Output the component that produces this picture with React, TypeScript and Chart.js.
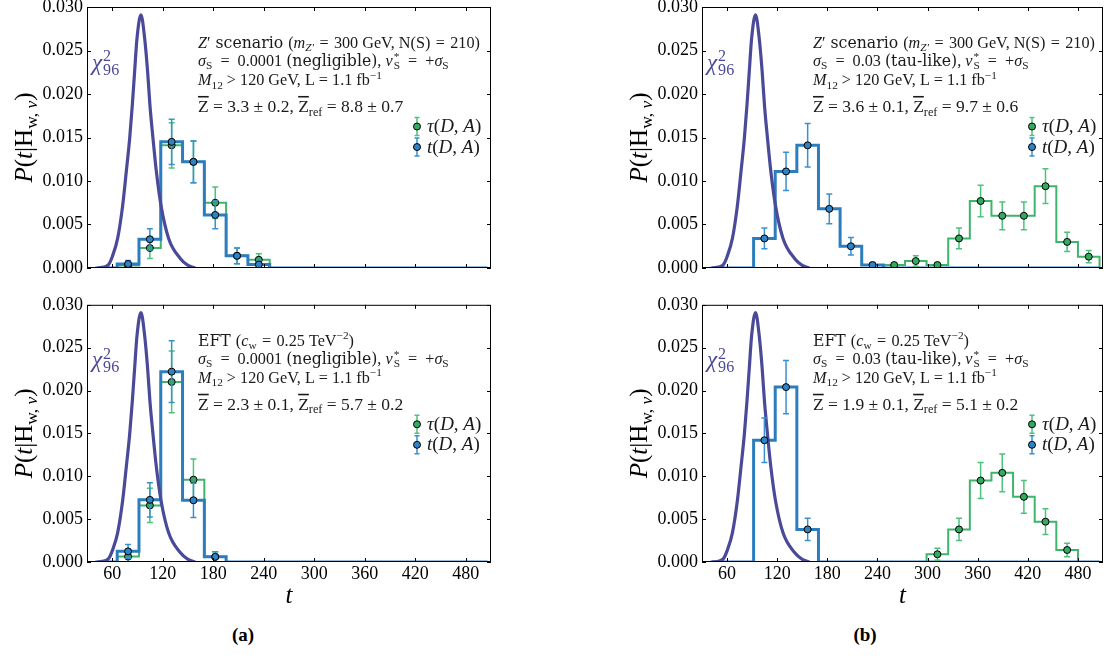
import React, { useEffect, useRef } from "react";
import { Chart, registerables } from "chart.js";
Chart.register(...registerables);

// ---------- data ----------
const N_BINS = 18;
const T_LO = 40;
const BIN_W = 440 / 17;
const X_MIN = 30;
const X_MAX = 510;
const X_TICKS = [60, 120, 180, 240, 300, 360, 420, 480];
const Y_TICKS = [0, 0.005, 0.01, 0.015, 0.02, 0.025, 0.03];

// chi^2_96 reference curve
const CHI_T = [42, 50, 55.7, 60, 66.4, 72.4, 76.7, 80.7, 83.8, 86.6, 89.4, 94.1, 98.5, 102, 104.8, 108.4, 112.4, 117.9, 127, 140.8, 150, 158.6];
const CHI_P = [0, 0.0001, 0.0004, 0.0013, 0.0034, 0.0072, 0.0111, 0.0149, 0.0187, 0.0226, 0.0264, 0.0291, 0.0264, 0.0226, 0.0187, 0.0149, 0.0111, 0.0072, 0.0034, 0.0011, 0.0003, 0];

// (a) top: Z' scenario, negligible smearing
const A1_GREEN = [0, 0.0003, 0.0023, 0.0141, 0.0122, 0.0075, 0.0014, 0.00095, 0, 0, 0, 0, 0, 0, 0, 0, 0, 0];
const A1_GREEN_ERR = [0, 0.0003, 0.0012, 0.0026, 0.0024, 0.0018, 0.0009, 0.0007, 0, 0, 0, 0, 0, 0, 0, 0, 0, 0];
const A1_BLUE = [0, 0.00046, 0.0033, 0.0145, 0.0122, 0.0061, 0.0014, 0.0004, 0, 0, 0, 0, 0, 0, 0, 0, 0, 0];
const A1_BLUE_ERR = [0, 0.0004, 0.0012, 0.0026, 0.0024, 0.0016, 0.0009, 0.0004, 0, 0, 0, 0, 0, 0, 0, 0, 0, 0];
// (a) bottom: EFT, negligible smearing
const A2_GREEN = [0, 0.00063, 0.0066, 0.021, 0.0096, 0.0006, 0, 0, 0, 0, 0, 0, 0, 0, 0, 0, 0, 0];
const A2_GREEN_ERR = [0, 0.0006, 0.002, 0.0036, 0.0024, 0.0006, 0, 0, 0, 0, 0, 0, 0, 0, 0, 0, 0, 0];
const A2_BLUE = [0, 0.00124, 0.00725, 0.0222, 0.0072, 0.0006, 0, 0, 0, 0, 0, 0, 0, 0, 0, 0, 0, 0];
const A2_BLUE_ERR = [0, 0.0008, 0.002, 0.0036, 0.002, 0.0006, 0, 0, 0, 0, 0, 0, 0, 0, 0, 0, 0, 0];
// (b) top: Z' scenario, tau-like smearing
const B1_GREEN = [0, 0, 0, 0, 0, 0, 0, 0, 0.00034, 0.0008, 0.00034, 0.0034, 0.0077, 0.006, 0.006, 0.0094, 0.003, 0.0013];
const B1_GREEN_ERR = [0, 0, 0, 0, 0, 0, 0, 0, 0.0002, 0.0006, 0.0002, 0.0012, 0.0018, 0.0016, 0.0016, 0.002, 0.0011, 0.0007];
const B1_BLUE = [0, 0, 0.0034, 0.0111, 0.0141, 0.0068, 0.0025, 0.00034, 0, 0, 0, 0, 0, 0, 0, 0, 0, 0];
const B1_BLUE_ERR = [0, 0, 0.0012, 0.0022, 0.0025, 0.0017, 0.001, 0.0003, 0, 0, 0, 0, 0, 0, 0, 0, 0, 0];
// (b) bottom: EFT, tau-like smearing
const B2_GREEN = [0, 0, 0, 0, 0, 0, 0, 0, 0, 0, 0.0009, 0.0038, 0.0095, 0.0104, 0.0076, 0.0047, 0.0014, 0];
const B2_GREEN_ERR = [0, 0, 0, 0, 0, 0, 0, 0, 0, 0, 0.0007, 0.0013, 0.0021, 0.0022, 0.0019, 0.0015, 0.0008, 0];
const B2_BLUE = [0, 0, 0.0142, 0.0204, 0.0038, 0, 0, 0, 0, 0, 0, 0, 0, 0, 0, 0, 0, 0];
const B2_BLUE_ERR = [0, 0, 0.0026, 0.0031, 0.0013, 0, 0, 0, 0, 0, 0, 0, 0, 0, 0, 0, 0, 0];

// ---------- styles ----------
const C_GREEN = "#3fb46b";
const C_GREEN_ERR = "#4cc27c";
const C_GREEN_MK = "#35a862";
const C_BLUE = "#2c7dbd";
const C_BLUE_ERR = "#3a90d0";
const C_BLUE_MK = "#2f83c4";
const C_CHI = "#4a4a98";
const MATH_FONT = '"Liberation Serif", serif';
const TEXT_FONT = '"DejaVu Serif", serif';

const EDGES = Array.from({ length: N_BINS + 1 }, (_, k) => T_LO + k * BIN_W);
const CENTERS = Array.from({ length: N_BINS }, (_, k) => T_LO + (k + 0.5) * BIN_W);

type Seg = [string, string];
const EQ_W = "\u2002=\u2002";
const EQ_N = "\u2004=\u2004";

function drawRich(ctx: CanvasRenderingContext2D, segs: Seg[], x: number, y: number, size: number, color: string, draw = true): number {
  let cx = x;
  ctx.fillStyle = color;
  ctx.textBaseline = "alphabetic";
  ctx.textAlign = "left";
  for (const [txt, st] of segs) {
    const f = st.split(" ");
    const it = f.includes("i") ? "italic " : "";
    const isText = f.includes("t");
    const fam = isText ? TEXT_FONT : MATH_FONT;
    if (f.includes("ss")) {
      const [a, b] = txt.split("|");
      const s2 = size * 0.7;
      ctx.font = `${s2}px ${fam}`;
      const wa = ctx.measureText(a).width;
      const wb = ctx.measureText(b).width;
      if (draw) {
        ctx.fillText(a, cx + 1, y - size * 0.36);
        ctx.fillText(b, cx + 1, y + size * 0.22);
      }
      cx += Math.max(wa, wb) + 1;
      continue;
    }
    let sz = isText ? size * 0.97 : size;
    let dy = 0;
    if (f.includes("sub")) { sz = size * 0.7; dy = size * 0.22; }
    if (f.includes("sup")) { sz = size * 0.7; dy = -size * 0.4; }
    ctx.font = `${it}${sz}px ${fam}`;
    const w = ctx.measureText(txt).width;
    if (draw) {
      ctx.fillText(txt, cx, y + dy);
      if (f.includes("ov")) ctx.fillRect(cx, y + dy - sz * 0.9, w, Math.max(1.5, sz * 0.09));
    }
    cx += w;
  }
  return cx - x;
}

const LINE_Z1: Seg[] = [["Z", "i"], ["′", "r"], [" scenario ", "t"], ["(", "r"], ["m", "i"], ["Z′", "sub i"], [`${EQ_N}300 GeV, N(S)${EQ_N}210)`, "r"]];
const LINE_EFT1: Seg[] = [["EFT ", "t"], ["(", "r"], ["c", "i"], ["w", "sub"], [`${EQ_N}0.25 TeV`, "r"], ["−2", "sup"], [")", "r"]];
const lineSigma = (val: string, word: string): Seg[] => [["σ", "i"], ["S", "sub"], [`${EQ_W}${val} `, "r"], [word, "t"], [", ", "r"], ["ν", "i"], ["*|S", "ss"], [`${EQ_W}+`, "r"], ["σ", "i"], ["S", "sub"]];
const LINE_3: Seg[] = [["M", "i"], ["12", "sub"], [" > 120 GeV, L = 1.1 fb", "r"], ["−1", "sup"]];
const lineZ = (z: string, zr: string): Seg[] => [["Z", "ov"], [` = ${z}, `, "r"], ["Z", "ov"], ["ref", "sub"], [` = ${zr}`, "r"]];
const Y_TITLE: Seg[] = [["P", "i"], ["(", "r"], ["t", "i"], ["|", "r"], ["H", "r"], ["w, ", "sub"], ["ν", "sub i"], [")", "r"]];
const LEG_TAU: Seg[] = [["τ", "i"], ["(", "r"], ["D", "i"], [", ", "r"], ["A", "i"], [")", "r"]];
const LEG_T: Seg[] = [["t", "i"], ["(", "r"], ["D", "i"], [", ", "r"], ["A", "i"], [")", "r"]];
const CHI_LABEL: Seg[] = [["χ", "i"], ["2|96", "ss"]];

interface PanelDef {
  green: number[]; greenErr: number[]; blue: number[]; blueErr: number[];
  lines: Seg[][]; bottom: boolean;
}

const PANELS: PanelDef[] = [
  { green: A1_GREEN, greenErr: A1_GREEN_ERR, blue: A1_BLUE, blueErr: A1_BLUE_ERR, bottom: false,
    lines: [LINE_Z1, lineSigma("0.0001", "(negligible)"), LINE_3, lineZ("3.3 ± 0.2", "8.8 ± 0.7")] },
  { green: A2_GREEN, greenErr: A2_GREEN_ERR, blue: A2_BLUE, blueErr: A2_BLUE_ERR, bottom: true,
    lines: [LINE_EFT1, lineSigma("0.0001", "(negligible)"), LINE_3, lineZ("2.3 ± 0.1", "5.7 ± 0.2")] },
  { green: B1_GREEN, greenErr: B1_GREEN_ERR, blue: B1_BLUE, blueErr: B1_BLUE_ERR, bottom: false,
    lines: [LINE_Z1, lineSigma("0.03", "(tau-like)"), LINE_3, lineZ("3.6 ± 0.1", "9.7 ± 0.6")] },
  { green: B2_GREEN, greenErr: B2_GREEN_ERR, blue: B2_BLUE, blueErr: B2_BLUE_ERR, bottom: true,
    lines: [LINE_EFT1, lineSigma("0.03", "(tau-like)"), LINE_3, lineZ("1.9 ± 0.1", "5.1 ± 0.2")] },
];

function stepData(vals: number[]) {
  const pts: { x: number; y: number }[] = [{ x: EDGES[0], y: 0 }];
  vals.forEach((v, k) => {
    pts.push({ x: EDGES[k], y: v });
    pts.push({ x: EDGES[k + 1], y: v });
  });
  pts.push({ x: EDGES[N_BINS], y: 0 });
  return pts;
}
function pointData(vals: number[], errs: number[]) {
  const out: { x: number; y: number; e: number }[] = [];
  vals.forEach((v, k) => { if (v > 0) out.push({ x: CENTERS[k], y: v, e: errs[k] }); });
  return out;
}

interface Box { W: number; H: number; cl: number; cr: number; ct: number; cb: number; }

function buildConfig(def: PanelDef, box: Box): any {
  const tickFont = { family: MATH_FONT, size: 18 };
  const plugin = {
    id: "decor",
    beforeDatasetDraw(chart: any, args: any) {
      const ds = chart.data.datasets[args.index];
      if (!ds.errColor) return;
      const { ctx, chartArea: a } = chart;
      const xs = chart.scales.x, ys = chart.scales.y;
      ctx.save();
      ctx.beginPath();
      ctx.rect(a.left, a.top, a.right - a.left, a.bottom - a.top);
      ctx.clip();
      ctx.strokeStyle = ds.errColor;
      ctx.lineWidth = 1.5;
      for (const p of ds.data) {
        const x = xs.getPixelForValue(p.x);
        const y1 = ys.getPixelForValue(p.y - p.e);
        const y2 = ys.getPixelForValue(p.y + p.e);
        ctx.beginPath();
        ctx.moveTo(x, y1); ctx.lineTo(x, y2);
        ctx.moveTo(x - 3, y1); ctx.lineTo(x + 3, y1);
        ctx.moveTo(x - 3, y2); ctx.lineTo(x + 3, y2);
        ctx.stroke();
      }
      ctx.restore();
    },
    afterDraw(chart: any) {
      const { ctx, chartArea: a } = chart;
      const xs = chart.scales.x, ys = chart.scales.y;
      ctx.save();
      // frame
      ctx.strokeStyle = "#000";
      ctx.lineWidth = 1;
      ctx.strokeRect(a.left + 0.5, a.top + 0.5, a.right - a.left - 1, a.bottom - a.top - 1);
      // inward ticks on all sides
      ctx.beginPath();
      for (const t of X_TICKS) {
        const x = Math.round(xs.getPixelForValue(t)) + 0.5;
        ctx.moveTo(x, a.bottom); ctx.lineTo(x, a.bottom - 4);
        ctx.moveTo(x, a.top); ctx.lineTo(x, a.top + 4);
      }
      for (const t of Y_TICKS) {
        const y = Math.round(ys.getPixelForValue(t)) + 0.5;
        ctx.moveTo(a.left, y); ctx.lineTo(a.left + 4, y);
        ctx.moveTo(a.right, y); ctx.lineTo(a.right - 4, y);
      }
      ctx.stroke();
      // annotation block
      const tx = a.left + 111;
      const base = [40.7, 58.9, 78, 104.7];
      const sizes = [16.2, 16.2, 16.2, 17.5];
      def.lines.forEach((segs, i) => drawRich(ctx, segs, tx, a.top + base[i], sizes[i], "#1a1a1a"));
      // chi label
      drawRich(ctx, CHI_LABEL, a.left + 5, a.top + 62.5, 23, C_CHI);
      // legend
      const lx = a.left + 330;
      const rows = [{ y: a.top + 119.5, c: C_GREEN_MK, e: C_GREEN_ERR, segs: LEG_TAU }, { y: a.top + 140, c: C_BLUE_MK, e: C_BLUE_ERR, segs: LEG_T }];
      for (const r of rows) {
        ctx.strokeStyle = r.e;
        ctx.lineWidth = 1.5;
        ctx.beginPath();
        ctx.moveTo(lx, r.y - 9); ctx.lineTo(lx, r.y + 9);
        ctx.moveTo(lx - 2.5, r.y - 9); ctx.lineTo(lx + 2.5, r.y - 9);
        ctx.moveTo(lx - 2.5, r.y + 9); ctx.lineTo(lx + 2.5, r.y + 9);
        ctx.stroke();
        ctx.beginPath();
        ctx.arc(lx, r.y, 3.5, 0, Math.PI * 2);
        ctx.fillStyle = r.c; ctx.fill();
        ctx.strokeStyle = "#000"; ctx.lineWidth = 1; ctx.stroke();
        drawRich(ctx, r.segs, lx + 10, r.y + 5.5, 19, "#1a1a1a");
      }
      // y title
      const w = drawRich(ctx, Y_TITLE, 0, 0, 25, "#000", false);
      ctx.save();
      ctx.translate(a.left - 63, (a.top + a.bottom) / 2);
      ctx.rotate(-Math.PI / 2);
      drawRich(ctx, Y_TITLE, -w / 2, 7.5, 25, "#000");
      ctx.restore();
      // x title
      if (def.bottom) {
        ctx.font = `italic 25px ${MATH_FONT}`;
        ctx.fillStyle = "#000";
        ctx.textAlign = "center";
        ctx.textBaseline = "alphabetic";
        ctx.fillText("t", (a.left + a.right) / 2, a.bottom + 41);
      }
      ctx.restore();
    },
  };

  return {
    type: "line",
    data: {
      datasets: [
        { data: stepData(def.green), borderColor: C_GREEN, borderWidth: 2, pointRadius: 0, fill: false, order: 6 },
        { data: stepData(def.blue), borderColor: C_BLUE, borderWidth: 3, pointRadius: 0, fill: false, order: 5 },
        { data: CHI_T.map((t, i) => ({ x: t, y: CHI_P[i] })), borderColor: C_CHI, borderWidth: 3.2, pointRadius: 0, cubicInterpolationMode: "monotone", fill: false, order: 4 },
        { data: pointData(def.green, def.greenErr), showLine: false, pointRadius: 3.5, pointBackgroundColor: C_GREEN_MK, pointBorderColor: "#000", pointBorderWidth: 1, errColor: C_GREEN_ERR, order: 3 },
        { data: pointData(def.blue, def.blueErr), showLine: false, pointRadius: 3.5, pointBackgroundColor: C_BLUE_MK, pointBorderColor: "#000", pointBorderWidth: 1, errColor: C_BLUE_ERR, order: 2 },
      ],
    },
    options: {
      animation: false,
      responsive: false,
      devicePixelRatio: 1,
      events: [],
      layout: { padding: { left: 0, right: box.W - box.cr, top: box.ct, bottom: 0 } },
      plugins: { legend: { display: false }, tooltip: { enabled: false }, title: { display: false } },
      scales: {
        x: {
          type: "linear", min: X_MIN, max: X_MAX,
          grid: { display: false, drawTicks: false }, border: { display: false },
          afterBuildTicks: (s: any) => { s.ticks = X_TICKS.map((v) => ({ value: v })); },
          afterFit: (s: any) => { s.height = box.H - box.cb; },
          ticks: { display: def.bottom, font: tickFont, color: "#000", padding: 1, maxRotation: 0, autoSkip: false },
        },
        y: {
          type: "linear", min: 0, max: 0.03,
          grid: { display: false, drawTicks: false }, border: { display: false },
          afterBuildTicks: (s: any) => { s.ticks = Y_TICKS.map((v) => ({ value: v })); },
          afterFit: (s: any) => { s.width = box.cl; },
          ticks: { font: tickFont, color: "#000", padding: 4, callback: (v: any) => Number(v).toFixed(3) },
        },
      },
    },
    plugins: [plugin],
  };
}

function Panel({ def, left, top, box }: { def: PanelDef; left: number; top: number; box: Box }) {
  const ref = useRef<HTMLCanvasElement>(null);
  useEffect(() => {
    const chart = new Chart(ref.current as HTMLCanvasElement, buildConfig(def, box));
    return () => chart.destroy();
  }, []);
  return (
    <canvas ref={ref} width={box.W} height={box.H}
      style={{ position: "absolute", left, top, width: box.W, height: box.H }} />
  );
}

export default function App() {
  const topBoxL: Box = { W: 550, H: 310, cl: 87, cr: 491, ct: 27, cb: 288 };
  const botBoxL: Box = { W: 550, H: 330, cl: 87, cr: 491, ct: 11, cb: 272 };
  const topBoxR: Box = { W: 558, H: 310, cl: 152, cr: 556, ct: 27, cb: 288 };
  const botBoxR: Box = { W: 558, H: 330, cl: 152, cr: 556, ct: 11, cb: 272 };
  const sub: React.CSSProperties = { position: "absolute", top: 624, width: 60, textAlign: "center", fontFamily: MATH_FONT, fontWeight: "bold", fontSize: 19 };
  return (
    <div style={{ position: "absolute", left: 0, top: 0, width: 1108, height: 659, background: "#fff", overflow: "hidden" }}>
      <Panel def={PANELS[0]} left={0} top={-20} box={topBoxL} />
      <Panel def={PANELS[1]} left={0} top={290} box={botBoxL} />
      <Panel def={PANELS[2]} left={550} top={-20} box={topBoxR} />
      <Panel def={PANELS[3]} left={550} top={290} box={botBoxR} />
      <div style={{ ...sub, left: 213 }}>(a)</div>
      <div style={{ ...sub, left: 835 }}>(b)</div>
    </div>
  );
}
